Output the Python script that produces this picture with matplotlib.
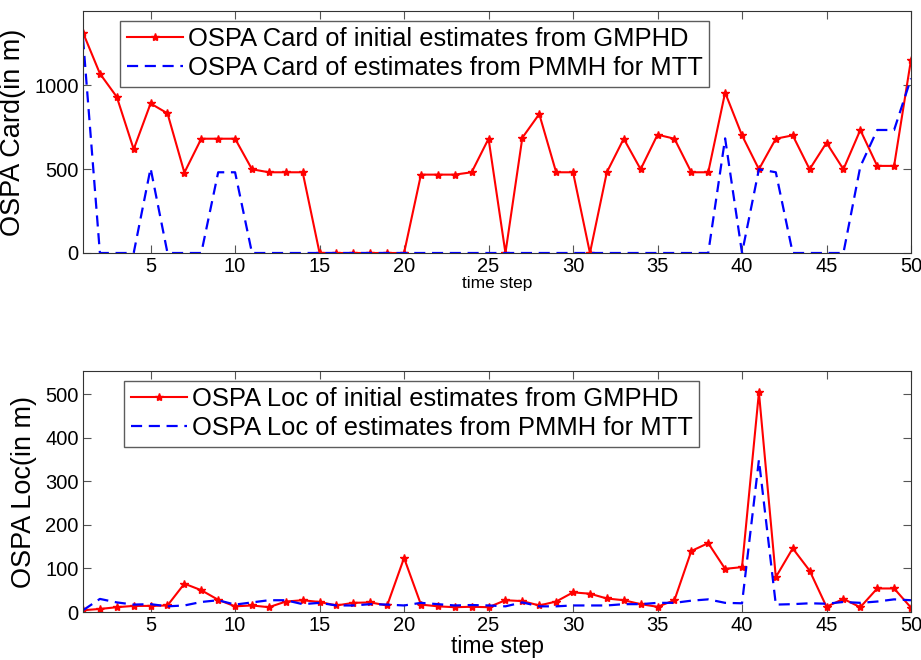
import numpy as np
import matplotlib.pyplot as plt

plt.rcParams['font.family'] = ['Liberation Sans', 'DejaVu Sans']

steps = np.arange(1, 51)

# OSPA cardinality error
card_gmphd = [1313, 1069, 930, 618, 891, 832, 479, 681, 681, 681,
              499, 481, 481, 481, 0, 0, 0, 0, 0, 0,
              467, 467, 467, 481, 681, 0, 687, 828, 481, 481,
              0, 481, 681, 499, 705, 681, 481, 481, 956, 701,
              499, 681, 701, 499, 657, 499, 733, 519, 519, 1152]
card_pmmh = [1280, 0, 0, 0, 505, 0, 0, 0, 481, 481,
             0, 0, 0, 0, 0, 0, 0, 0, 0, 0,
             0, 0, 0, 0, 0, 0, 0, 0, 0, 0,
             0, 0, 0, 0, 0, 0, 0, 0, 683, 0,
             499, 481, 0, 0, 0, 0, 515, 733, 733, 1040]

# OSPA localisation error
loc_gmphd = [4, 7, 11, 14, 14, 15, 65, 50, 28, 13,
             15, 11, 24, 27, 23, 15, 21, 22, 15, 124,
             17, 13, 11, 12, 11, 27, 25, 15, 24, 45,
             42, 31, 27, 18, 12, 27, 140, 158, 99, 103,
             504, 80, 146, 95, 12, 30, 11, 54, 54, 10]
loc_pmmh = [4, 30, 22, 17, 18, 13, 15, 23, 27, 17,
            22, 27, 27, 18, 21, 15, 15, 18, 17, 15,
            21, 18, 15, 16, 15, 13, 22, 13, 13, 15,
            15, 15, 18, 18, 21, 21, 26, 29, 21, 20,
            349, 17, 18, 20, 19, 23, 21, 24, 29, 27]

fig = plt.figure(figsize=(9.21, 6.60), dpi=100)
ax1 = fig.add_axes([83 / 921, 1 - 253 / 660, 828 / 921, 242 / 660])
ax2 = fig.add_axes([83 / 921, 1 - 612 / 660, 828 / 921, 241 / 660])

panels = [
    (ax1, card_gmphd, card_pmmh, 'Card', 1442, [0, 500, 1000], 12.5, 0.045),
    (ax2, loc_gmphd, loc_pmmh, 'Loc', 553, [0, 100, 200, 300, 400, 500], 16.5, 0.05),
]

for ax, red, blue, kind, ymax, yt, xl_size, lx in panels:
    ax.plot(steps, red, '-*', color='red', lw=1.5, ms=6,
            label=f'OSPA {kind} of initial estimates from GMPHD')
    ax.plot(steps, blue, '--', color='blue', lw=1.6, dashes=(5, 3),
            label=f'OSPA {kind} of estimates from PMMH for MTT')
    ax.set_xlim(1, 50)
    ax.set_ylim(0, ymax)
    ax.set_xticks([5, 10, 15, 20, 25, 30, 35, 40, 45, 50])
    ax.set_yticks(yt)
    ax.tick_params(direction='in', top=True, right=True, labelsize=14.5,
                   length=6, color='#555555', pad=3)
    for sp in ax.spines.values():
        sp.set_color('#333333')
    ax.set_ylabel(f'OSPA {kind}(in m)', fontsize=19.5, labelpad=6)
    ax.set_xlabel('time step', fontsize=xl_size, labelpad=0)
    leg = ax.legend(loc='upper left', bbox_to_anchor=(lx, 0.96),
                    fontsize=18.4, fancybox=False, handlelength=2.2,
                    handletextpad=0.2, borderpad=0.25, labelspacing=0.2,
                    borderaxespad=0)
    leg.get_frame().set_edgecolor('#333333')
    leg.get_frame().set_linewidth(1.0)

fig.savefig('out.png', dpi=100)
